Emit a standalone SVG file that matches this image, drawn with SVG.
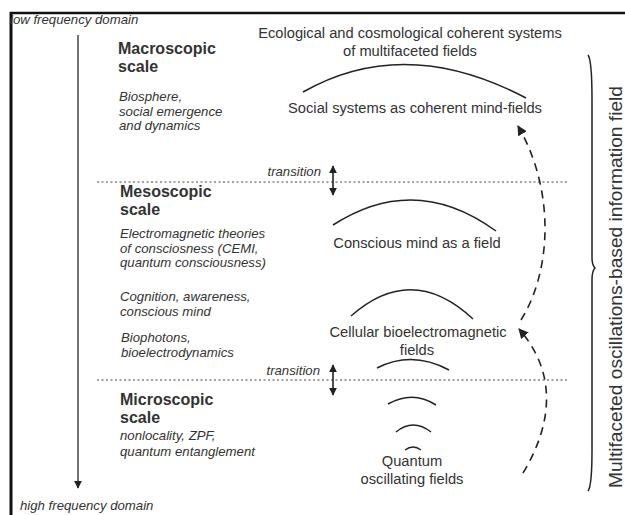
<svg xmlns="http://www.w3.org/2000/svg" width="625" height="515" viewBox="0 0 625 515">
<defs>
<style>
text{font-family:"Liberation Sans",Arial,sans-serif;fill:#333}
.it{font-style:italic;font-size:13.2px}
.hd{font-weight:bold;font-size:16px}
.lb{font-size:14.7px;text-anchor:middle}
.arc{fill:none;stroke:#222;stroke-width:1.5}
.dot{stroke:#444;stroke-width:1.2;stroke-dasharray:2 2.5}
.dash{fill:none;stroke:#222;stroke-width:1.6;stroke-dasharray:8 6}
</style>
<marker id="ah" viewBox="0 0 10 10" refX="9" refY="5" markerWidth="8" markerHeight="8" markerUnits="userSpaceOnUse" orient="auto-start-reverse">
<path d="M0,0 L10,5 L0,10 Z" fill="#222"/>
</marker>
<marker id="ah2" viewBox="0 0 10 10" refX="9" refY="5" markerWidth="10" markerHeight="10" markerUnits="userSpaceOnUse" orient="auto-start-reverse">
<path d="M0,0 L10,5 L0,10 Z" fill="#222"/>
</marker>
</defs>
<rect width="625" height="515" fill="#fff"/>
<g id="frame">
<line x1="11" y1="12" x2="11" y2="515" stroke="#111" stroke-width="3"/>
<line x1="10" y1="13" x2="625" y2="13" stroke="#111" stroke-width="2.5"/>
</g>
<g id="axis">
<text x="10" y="24" class="it">low frequency domain</text>
<text x="20" y="510" class="it">high frequency domain</text>
</g>
<g id="macro">
<text x="118" y="54" class="hd">Macroscopic</text>
<text x="118" y="72" class="hd">scale</text>
<text x="119" y="101" class="it">Biosphere,</text>
<text x="119" y="116" class="it">social emergence</text>
<text x="119" y="130" class="it">and dynamics</text>
</g>
<g id="meso">
<text x="120" y="197" class="hd">Mesoscopic</text>
<text x="120" y="215" class="hd">scale</text>
<text x="120" y="238" class="it">Electromagnetic theories</text>
<text x="120" y="253" class="it">of consciosness (CEMI,</text>
<text x="120" y="267" class="it">quantum consciousness)</text>
<text x="120" y="301" class="it">Cognition, awareness,</text>
<text x="120" y="316" class="it">conscious mind</text>
<text x="121" y="342" class="it">Biophotons,</text>
<text x="121" y="357" class="it">bioelectrodynamics</text>
</g>
<g id="micro">
<text x="120" y="405" class="hd">Microscopic</text>
<text x="120" y="423" class="hd">scale</text>
<text x="120" y="440" class="it">nonlocality, ZPF,</text>
<text x="120" y="456" class="it">quantum entanglement</text>
</g>
<g id="transitions">
<text x="321" y="176" class="it" text-anchor="end">transition</text>
<text x="320" y="375" class="it" text-anchor="end">transition</text>
</g>
<g id="eco">
<text x="410" y="38" class="lb">Ecological and cosmological coherent systems</text>
<text x="410" y="56" class="lb">of multifaceted fields</text>
<path class="arc" d="M303,92 Q405,34 526,98"/>
</g>
<g id="social">
<text x="415" y="113" class="lb">Social systems as coherent mind-fields</text>
</g>
<g id="conscious">
<path class="arc" d="M333,225 Q415,172 496,231"/>
<text x="417" y="248" class="lb">Conscious mind as a field</text>
</g>
<g id="cellular">
<path class="arc" d="M351,316 Q412,262 473,319"/>
<text x="418" y="337" class="lb">Cellular bioelectromagnetic</text>
<text x="417" y="355" class="lb">fields</text>
</g>
<g id="quantum">
<path class="arc" d="M377,368 Q412,350 449,370"/>
<path class="arc" d="M388,404 Q413,390 436,405"/>
<path class="arc" d="M396,432 Q413,418 431,432"/>
<path class="arc" d="M405,450 Q413,444 421,450"/>
<text x="412" y="466" class="lb">Quantum</text>
<text x="412" y="484" class="lb">oscillating fields</text>
</g>
<g id="brace">
<path d="M588,55 Q592,60 592,100 L592,258 Q592,265 595,268 Q592,271 592,280 L592,450 Q592,486 588,491" fill="none" stroke="#222" stroke-width="1.5"/>
<text transform="translate(622,287) rotate(-90)" style="font-size:19.2px;text-anchor:middle">Multifaceted oscillations-based information field</text>
</g>
<g id="connectors">
<line x1="78" y1="35" x2="78" y2="488" stroke="#444" stroke-width="1.5" marker-end="url(#ah)"/>
<line class="dot" x1="97" y1="182" x2="568" y2="182"/>
<line class="dot" x1="97" y1="380" x2="568" y2="380"/>
<line x1="333" y1="166" x2="333" y2="195" stroke="#222" stroke-width="1.6" marker-start="url(#ah)" marker-end="url(#ah)"/>
<line x1="333" y1="365" x2="333" y2="395" stroke="#222" stroke-width="1.6" marker-start="url(#ah)" marker-end="url(#ah)"/>
<path class="dash" d="M523,473 C555,420 555,370 519,329" marker-end="url(#ah2)"/>
<path class="dash" d="M521,320 C552,270 555,190 518,126" marker-end="url(#ah2)"/>
</g>
</svg>
